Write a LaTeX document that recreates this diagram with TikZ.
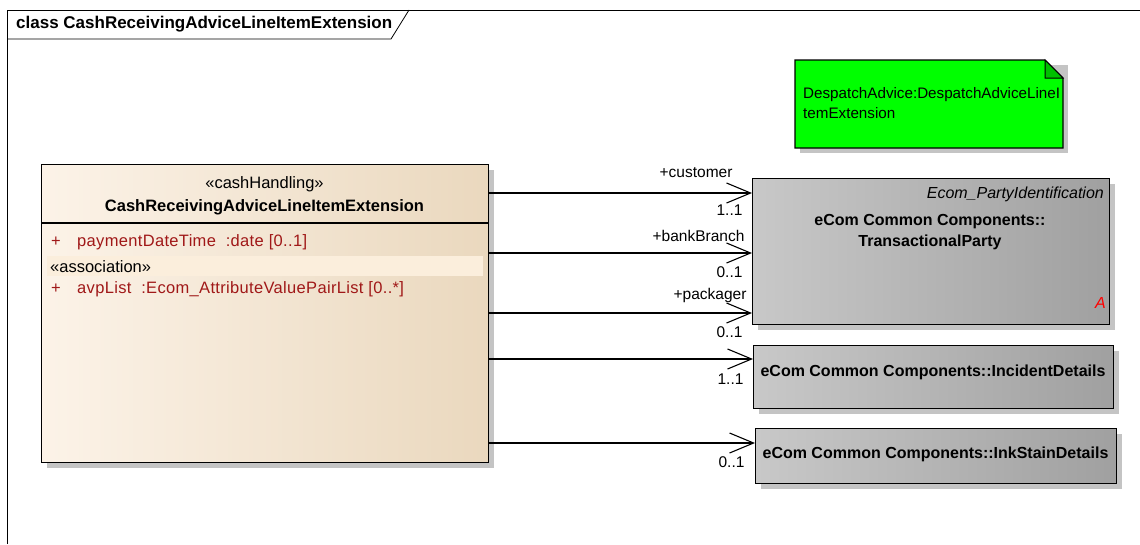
\documentclass[tikz,border=0pt]{standalone}
\usepackage{fontspec}
\setmainfont{Liberation Sans}
\usetikzlibrary{arrows.meta,shadows}
\definecolor{creamL}{HTML}{FCF3E8}
\definecolor{creamR}{HTML}{EAD8BE}
\definecolor{bandc}{HTML}{FBEEDC}
\definecolor{grayL}{HTML}{C8C8C8}
\definecolor{grayR}{HTML}{A0A0A0}
\definecolor{attrc}{HTML}{A01818}
\definecolor{notegreen}{HTML}{00FF00}
\definecolor{foldgreen}{HTML}{00C000}
\definecolor{shadowc}{HTML}{C4C4C4}
\begin{document}
\begin{tikzpicture}[x=1pt,y=-1pt,
  boxshadow/.style={drop shadow={shadow xshift=5pt,shadow yshift=-5pt,fill=shadowc,opacity=1}},
  classbox/.style={draw=black,line width=1.2pt,anchor=north west,inner sep=0pt,
    left color=creamL,right color=creamR,boxshadow},
  graybox/.style={draw=black,line width=1.2pt,anchor=north west,inner sep=0pt,
    left color=grayL,right color=grayR,boxshadow},
  txt/.style={inner sep=0pt,font=\fontsize{15.5}{18}\selectfont},
  ctxt/.style={inner sep=0pt,font=\fontsize{16.5}{18}\selectfont},
  cbtxt/.style={inner sep=0pt,font=\fontsize{16.5}{18}\selectfont\bfseries},
  gbtxt/.style={inner sep=0pt,font=\fontsize{16}{18}\selectfont\bfseries},
  attr/.style={inner sep=0pt,font=\fontsize{16.5}{18}\selectfont\addfontfeature{LetterSpace=2},text=attrc,anchor=base west},
  assoc/.style={line width=1.1pt,-{Straight Barb[length=24pt,width=20pt,line width=1.1pt]}},
  role/.style={txt,anchor=base east},
]
\useasboundingbox (0,0) rectangle (1140,544);

% frame
\draw[line width=0.8pt] (7,544) -- (7,10) -- (1140,10);
\draw[line width=0.8pt] (7,39) -- (391,39) -- (409,10);
\node[inner sep=0pt,anchor=base west,font=\fontsize{17}{18}\selectfont\bfseries] (title) at (16,28) {class CashReceivingAdviceLineItemExtension};

% note
\fill[shadowc] (800,65) rectangle (1068,153);
\draw[line width=1.2pt,fill=notegreen] (795,60) -- (1045,60) -- (1063,78) -- (1063,148) -- (795,148) -- cycle;
\draw[line width=1pt,fill=foldgreen] (1045,60) -- (1045,78) -- (1063,78) -- cycle;
\node[inner sep=0pt,anchor=base west,font=\fontsize{15.2}{18}\selectfont] (note1) at (803,98) {DespatchAdvice:DespatchAdviceLineI};
\node[inner sep=0pt,anchor=base west,font=\fontsize{15.2}{18}\selectfont] (note2) at (803,118) {temExtension};

% main class
\node[classbox,minimum width=447pt,minimum height=298pt] (main) at (41,164) {};
\draw[line width=1.2pt] ([yshift=-59pt]main.north west) -- ([yshift=-59pt]main.north east);
\fill[bandc] (47,256) rectangle (483,276);
\node[ctxt,anchor=base] (st) at (264.5,188) {«cashHandling»};
\node[cbtxt,anchor=base] (nm) at (264.5,211) {CashReceivingAdviceLineItemExtension};
\node[attr] (p1) at (51,246) {+};
\node[attr] (a1) at (77,246) {paymentDateTime\ \ :date [0..1]};
\node[ctxt,anchor=base west] (as) at (50,272) {«association»};
\node[attr] (p2) at (51,293) {+};
\node[attr] (a2) at (77,293) {avpList\ \ :Ecom\_AttributeValuePairList [0..*]};

% TransactionalParty
\node[graybox,minimum width=357pt,minimum height=146pt] (tp) at (752,178) {};
\node[inner sep=0pt,anchor=base east,font=\fontsize{16}{18}\selectfont\itshape] (tps) at (1104,198) {Ecom\_PartyIdentification};
\node[gbtxt,anchor=base] (tpn1) at (930,225) {eCom Common Components::};
\node[gbtxt,anchor=base] (tpn2) at (930,246) {TransactionalParty};
\node[inner sep=0pt,anchor=base east,text=red,font=\fontsize{16}{18}\selectfont\itshape] (tpa) at (1106,308) {A};

% IncidentDetails
\node[graybox,minimum width=360pt,minimum height=63pt] (inc) at (753,345) {};
\node[gbtxt,anchor=base] (incn) at (933,376) {eCom Common Components::IncidentDetails};

% InkStainDetails
\node[graybox,minimum width=361pt,minimum height=55pt] (ink) at (755,428) {};
\node[gbtxt,anchor=base] (inkn) at (935.5,458) {eCom Common Components::InkStainDetails};

% connectors
\coordinate (c1) at (0,193);
\coordinate (c2) at (0,253);
\coordinate (c3) at (0,313);
\coordinate (c4) at (0,359);
\coordinate (c5) at (0,443);
\draw[assoc] (main.east |- c1) -- (tp.west |- c1)
  node[role,at end,xshift=-19pt,yshift=16pt] {+customer}
  node[role,at end,xshift=-9pt,yshift=-22pt] {1..1};
\draw[assoc] (main.east |- c2) -- (tp.west |- c2)
  node[role,at end,xshift=-7pt,yshift=12pt] {+bankBranch}
  node[role,at end,xshift=-9pt,yshift=-24pt] {0..1};
\draw[assoc] (main.east |- c3) -- (tp.west |- c3)
  node[role,at end,xshift=-5pt,yshift=14pt] {+packager}
  node[role,at end,xshift=-9pt,yshift=-24pt] {0..1};
\draw[assoc] (main.east |- c4) -- (inc.west |- c4)
  node[role,at end,xshift=-9pt,yshift=-25pt] {1..1};
\draw[assoc] (main.east |- c5) -- (ink.west |- c5)
  node[role,at end,xshift=-10pt,yshift=-24pt] {0..1};
\end{tikzpicture}
\end{document}
